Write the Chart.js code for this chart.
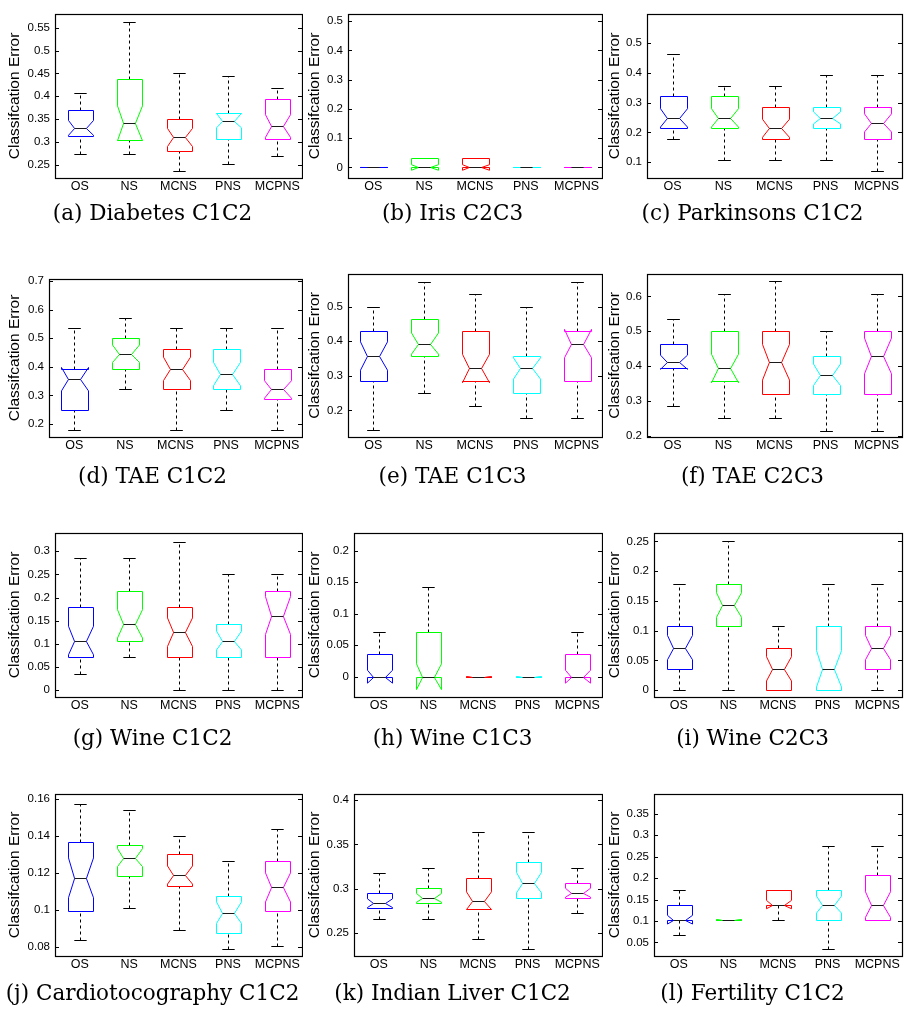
<!DOCTYPE html>
<html>
<head>
<meta charset="utf-8">
<script src="https://cdn.jsdelivr.net/npm/chart.js@4.4.1/dist/chart.umd.min.js"></script>
<style>
  html, body { margin: 0; padding: 0; background: #fff; }
  #fig { position: relative; width: 905px; height: 1013px; }
  #fig canvas { position: absolute; }
</style>
</head>
<body>
<div id="fig"></div>
<script>
"use strict";
const methods = ["OS", "NS", "MCNS", "PNS", "MCPNS"];
const captions = [
  "(a) Diabetes C1C2", "(b) Iris C2C3", "(c) Parkinsons C1C2",
  "(d) TAE C1C2", "(e) TAE C1C3", "(f) TAE C2C3",
  "(g) Wine C1C2", "(h) Wine C1C3", "(i) Wine C2C3",
  "(j) Cardiotocography C1C2", "(k) Indian Liver C1C2", "(l) Fertility C1C2"
];
// one row per method: [lower whisker, q1, median, q3, upper whisker]
const diabetesC1C2 = [
  [0.275, 0.3125, 0.331, 0.369, 0.407],
  [0.275, 0.305, 0.341, 0.438, 0.563],
  [0.237, 0.281, 0.310, 0.350, 0.450],
  [0.253, 0.307, 0.347, 0.3625, 0.444],
  [0.269, 0.307, 0.335, 0.393, 0.419]
];
const irisC2C3 = [
  [0, 0, 0, 0, 0],
  [0, 0, 0, 0.0333, 0.0333],
  [0, 0, 0, 0.0333, 0.0333],
  [0, 0, 0, 0, 0],
  [0, 0, 0, 0, 0]
];
const parkinsonsC1C2 = [
  [0.178, 0.214, 0.249, 0.322, 0.464],
  [0.106, 0.214, 0.249, 0.322, 0.357],
  [0.106, 0.178, 0.214, 0.2845, 0.357],
  [0.106, 0.214, 0.249, 0.2845, 0.392],
  [0.070, 0.178, 0.232, 0.2845, 0.392]
];
const taeC1C2 = [
  [0.178, 0.25, 0.357, 0.393, 0.536],
  [0.321, 0.393, 0.446, 0.5, 0.571],
  [0.178, 0.321, 0.393, 0.464, 0.536],
  [0.25, 0.321, 0.375, 0.464, 0.536],
  [0.178, 0.286, 0.321, 0.393, 0.536]
];
const taeC1C3 = [
  [0.143, 0.286, 0.357, 0.429, 0.5],
  [0.25, 0.357, 0.393, 0.464, 0.571],
  [0.214, 0.286, 0.321, 0.429, 0.536],
  [0.179, 0.25, 0.321, 0.357, 0.5],
  [0.179, 0.286, 0.393, 0.429, 0.571]
];
const taeC2C3 = [
  [0.286, 0.393, 0.411, 0.464, 0.536],
  [0.25, 0.357, 0.393, 0.5, 0.607],
  [0.25, 0.321, 0.411, 0.5, 0.643],
  [0.214, 0.321, 0.375, 0.429, 0.5],
  [0.214, 0.321, 0.429, 0.5, 0.607]
];
const wineC1C2 = [
  [0.0357, 0.0714, 0.107, 0.179, 0.286],
  [0.0714, 0.107, 0.143, 0.214, 0.286],
  [0, 0.0714, 0.125, 0.179, 0.321],
  [0, 0.0714, 0.107, 0.143, 0.25],
  [0, 0.0714, 0.161, 0.214, 0.25]
];
const wineC1C3 = [
  [0, 0, 0, 0.0357, 0.0714],
  [0, 0, 0, 0.0714, 0.143],
  [0, 0, 0, 0, 0],
  [0, 0, 0, 0, 0],
  [0, 0, 0, 0.0357, 0.0714]
];
const wineC2C3 = [
  [0, 0.0357, 0.0714, 0.107, 0.179],
  [0, 0.107, 0.143, 0.179, 0.25],
  [0, 0, 0.0357, 0.0714, 0.107],
  [0, 0, 0.0357, 0.107, 0.179],
  [0, 0.0357, 0.0714, 0.107, 0.179]
];
const cardioC1C2 = [
  [0.0841, 0.0993, 0.1174, 0.1368, 0.1573],
  [0.101, 0.1182, 0.1283, 0.1351, 0.1539],
  [0.0892, 0.1129, 0.1189, 0.13, 0.1402],
  [0.079, 0.0875, 0.0986, 0.1078, 0.1267],
  [0.0805, 0.0993, 0.1122, 0.1267, 0.1436]
];
const liverC1C2 = [
  [0.2661, 0.2779, 0.2836, 0.295, 0.3182],
  [0.2661, 0.2836, 0.2896, 0.3011, 0.3239],
  [0.2436, 0.2775, 0.2864, 0.3125, 0.3643],
  [0.2318, 0.2893, 0.3068, 0.3296, 0.3643],
  [0.2721, 0.2893, 0.2954, 0.3068, 0.3239]
];
const fertilityC1C2 = [
  [0.0683, 0.103, 0.103, 0.1383, 0.1715],
  [0.103, 0.103, 0.103, 0.103, 0.103],
  [0.103, 0.1383, 0.1383, 0.1723, 0.1723],
  [0.0351, 0.103, 0.1383, 0.1723, 0.2755],
  [0.103, 0.103, 0.1383, 0.2069, 0.2755]
];

const diabetesTicks = [0.25, 0.3, 0.35, 0.4, 0.45, 0.5, 0.55];
const irisTicks = [0, 0.1, 0.2, 0.3, 0.4, 0.5];
const parkinsonsTicks = [0.1, 0.2, 0.3, 0.4, 0.5];
const taeC1C2Ticks = [0.2, 0.3, 0.4, 0.5, 0.6, 0.7];
const taeC1C3Ticks = [0.2, 0.3, 0.4, 0.5];
const taeC2C3Ticks = [0.2, 0.3, 0.4, 0.5, 0.6];
const wineC1C2Ticks = [0, 0.05, 0.1, 0.15, 0.2, 0.25, 0.3];
const wineC1C3Ticks = [0, 0.05, 0.1, 0.15, 0.2];
const wineC2C3Ticks = [0, 0.05, 0.1, 0.15, 0.2, 0.25];
const cardioTicks = [0.08, 0.1, 0.12, 0.14, 0.16];
const liverTicks = [0.25, 0.3, 0.35, 0.4];
const fertilityTicks = [0.05, 0.1, 0.15, 0.2, 0.25, 0.3, 0.35];

const runs = 30; // notch half height = 1.57 * IQR / sqrt(runs), as matlab boxplot does
const boxColors = ["#0000ff", "#00ff00", "#ff0000", "#00ffff", "#ff00ff"];

// frame = plot area [left, top, right, bottom] in page pixels
const panels = [
  { stats: diabetesC1C2, ticks: diabetesTicks, range: [0.2215, 0.58], frame: [55, 5, 302, 178] },
  { stats: irisC2C3, ticks: irisTicks, range: [-0.036, 0.525], frame: [348, 5, 602, 178] },
  { stats: parkinsonsC1C2, ticks: parkinsonsTicks, range: [0.0467, 0.599], frame: [647, 5, 902, 178] },
  { stats: taeC1C2, ticks: taeC1C2Ticks, range: [0.1548, 0.7077], frame: [49, 270, 302, 437] },
  { stats: taeC1C3, ticks: taeC1C3Ticks, range: [0.1231, 0.5942], frame: [348, 265, 602, 437] },
  { stats: taeC2C3, ticks: taeC2C3Ticks, range: [0.1964, 0.6645], frame: [647, 265, 902, 437] },
  { stats: wineC1C2, ticks: wineC1C2Ticks, range: [-0.0151, 0.3397], frame: [55, 524, 302, 697] },
  { stats: wineC1C3, ticks: wineC1C3Ticks, range: [-0.0322, 0.2281], frame: [354, 524, 602, 697] },
  { stats: wineC2C3, ticks: wineC2C3Ticks, range: [-0.0117, 0.2644], frame: [654, 524, 902, 697] },
  { stats: cardioC1C2, ticks: cardioTicks, range: [0.0752, 0.1627], frame: [55, 785, 302, 956] },
  { stats: liverC1C2, ticks: liverTicks, range: [0.2239, 0.4071], frame: [354, 785, 602, 956] },
  { stats: fertilityC1C2, ticks: fertilityTicks, range: [0.0183, 0.3965], frame: [654, 785, 902, 956] }
];
const colLeft = [3, 303, 603];
const colRight = [303, 603, 905];
const captionY = [214, 477, 739, 994];
const captionSize = 21.5;

const px = v => Math.round(v) + 0.5;

const boxPlot = {
  id: "boxPlot",
  afterDatasetsDraw(chart, args, opts) {
    const { ctx, chartArea: a, scales: { x, y } } = chart;
    const step = x.getPixelForValue(1) - x.getPixelForValue(0);
    const w = step * 0.52, cap = step * 0.25;
    const line = (x1, y1, x2, y2) => {
      ctx.beginPath(); ctx.moveTo(x1, y1); ctx.lineTo(x2, y2); ctx.stroke();
    };
    ctx.save();
    ctx.lineWidth = 1;
    opts.stats.forEach((s, i) => {
      const [lo, q1, med, q3, hi] = s;
      const half = 1.57 * (q3 - q1) / Math.sqrt(runs);
      const cx = px(x.getPixelForValue(i));
      const xl = px(cx - w / 2), xr = px(cx + w / 2);
      const nl = cx - w * 0.23, nr = cx + w * 0.23;
      const yLo = px(y.getPixelForValue(lo)), yHi = px(y.getPixelForValue(hi));
      const yQ1 = px(y.getPixelForValue(q1)), yQ3 = px(y.getPixelForValue(q3));
      const yMed = px(y.getPixelForValue(med));
      const yNlo = y.getPixelForValue(med - half), yNhi = y.getPixelForValue(med + half);
      // whiskers
      ctx.strokeStyle = "#000";
      ctx.setLineDash([3, 3]);
      if (hi > q3) line(cx, yQ3, cx, yHi);
      if (lo < q1) line(cx, yLo, cx, yQ1);
      ctx.setLineDash([]);
      line(cx - cap / 2, yHi, cx + cap / 2, yHi);
      line(cx - cap / 2, yLo, cx + cap / 2, yLo);
      // notched box
      ctx.strokeStyle = boxColors[i];
      ctx.beginPath();
      ctx.moveTo(xl, yQ1);
      ctx.lineTo(xl, yNlo);
      ctx.lineTo(nl, yMed);
      ctx.lineTo(xl, yNhi);
      ctx.lineTo(xl, yQ3);
      ctx.lineTo(xr, yQ3);
      ctx.lineTo(xr, yNhi);
      ctx.lineTo(nr, yMed);
      ctx.lineTo(xr, yNlo);
      ctx.lineTo(xr, yQ1);
      ctx.closePath();
      ctx.stroke();
      // median
      ctx.strokeStyle = "#1a1a1a";
      line(nl, yMed, nr, yMed);
    });
    // axes frame with inward ticks on both sides
    ctx.strokeStyle = "#000";
    ctx.lineWidth = 1.2;
    ctx.strokeRect(px(a.left), px(a.top), Math.round(a.width), Math.round(a.height));
    ctx.lineWidth = 1;
    y.ticks.forEach(t => {
      const yy = px(y.getPixelForValue(t.value));
      line(a.left, yy, a.left + 4, yy);
      line(a.right - 4, yy, a.right, yy);
    });
    ctx.restore();
  }
};

const fig = document.getElementById("fig");
panels.forEach((p, k) => {
  const col = k % 3, row = Math.floor(k / 3);
  const [fl, ft, fr, fb] = p.frame;
  const left = colLeft[col];
  const top = ft - 3;
  const lineH = captionSize * 1.2;
  const capPad = captionY[row] - fb - 20 - lineH / 2;
  const canvas = document.createElement("canvas");
  canvas.width = colRight[col] - left;
  canvas.height = Math.ceil(fb + 20 + lineH + capPad + 3 - top);
  canvas.style.left = left + "px";
  canvas.style.top = top + "px";
  fig.appendChild(canvas);
  const bottomPad = canvas.height - (fb - top) - 20 - lineH - capPad;
  new Chart(canvas, {
    type: "bar",
    data: {
      labels: methods,
      datasets: [{
        data: p.stats.map(s => [s[0], s[4]]),
        backgroundColor: "rgba(0,0,0,0)",
        borderWidth: 0
      }]
    },
    options: {
      responsive: false,
      animation: false,
      events: [],
      layout: { padding: { left: 0, top: 3, right: colRight[col] - fr, bottom: bottomPad } },
      plugins: {
        legend: { display: false },
        tooltip: { enabled: false },
        title: {
          display: true,
          text: captions[k],
          position: "bottom",
          color: "#000",
          padding: { top: capPad, bottom: 0 },
          font: { family: "DejaVu Serif", size: captionSize, weight: "normal", lineHeight: 1.2 }
        },
        boxPlot: { stats: p.stats }
      },
      scales: {
        x: {
          type: "category",
          offset: true,
          grid: { display: false, drawTicks: false },
          border: { display: false },
          ticks: {
            color: "#000",
            padding: 1,
            autoSkip: false,
            maxRotation: 0,
            font: { family: "Liberation Sans", size: 12.5 }
          },
          afterFit: s => { s.height = 20; }
        },
        y: {
          type: "linear",
          min: p.range[0],
          max: p.range[1],
          grid: { display: false, drawTicks: false },
          border: { display: false },
          afterBuildTicks: s => { s.ticks = p.ticks.map(v => ({ value: v })); },
          ticks: {
            color: "#000",
            padding: 5,
            font: { family: "Liberation Sans", size: 11.5 },
            callback: v => String(v)
          },
          title: {
            display: true,
            text: "Classifcation Error",
            color: "#000",
            padding: { top: 2.7, bottom: 0 },
            font: { family: "Liberation Sans", size: 15.5, lineHeight: 1.2 }
          },
          afterFit: s => { s.width = fl - left; }
        }
      }
    },
    plugins: [boxPlot]
  });
});
</script>
</body>
</html>
